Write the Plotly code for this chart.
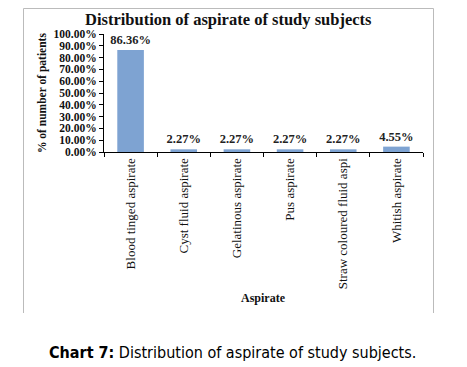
import plotly.graph_objects as go

categories = ["Blood tinged aspirate", "Cyst fluid aspirate", "Gelatinous aspirate",
              "Pus aspirate", "Straw coloured fluid aspi", "Whitish aspirate"]
values = [0.8636, 0.0227, 0.0227, 0.0227, 0.0227, 0.0455]
ytick_vals = [i / 10 for i in range(11)]
ytick_text = [f"{v*100:.2f}%" for v in ytick_vals]

serif = "Liberation Serif, Cambria, DejaVu Serif, serif"

# page body has an 8px margin; work in window pixels and offset
OFF = 8
W, H = 467 - OFF, 367 - OFF
L, T = 104 - OFF, 34 - OFF
R = W - (423 - OFF)
B = H - (152 - OFF)
pw, ph = W - L - R, H - T - B

def px(x):
    return (x - OFF - L) / pw

def py(y):
    return (H - B - (y - OFF)) / ph

fig = go.Figure(go.Bar(
    x=categories, y=values,
    marker=dict(color="#7EA3D2", line=dict(width=0)),
    text=[f"<b>{v*100:.2f}%</b>" for v in values],
    textposition="outside",
    constraintext="none",
    textfont=dict(family=serif, size=12.5, color="#222"),
    cliponaxis=False,
    width=0.5,
))

fig.update_layout(
    width=W, height=H,
    margin=dict(l=L, r=R, t=T, b=B, pad=0, autoexpand=False),
    paper_bgcolor="white", plot_bgcolor="white",
    showlegend=False,
    xaxis=dict(
        automargin=False,
        showline=True, linecolor="black", linewidth=1,
        ticks="outside", tickson="boundaries", ticklen=4, tickcolor="black",
        tickangle=-90,
        tickfont=dict(family=serif, size=13, color="#111"),
        showgrid=False,
    ),
    yaxis=dict(
        automargin=False,
        range=[0, 1],
        tickvals=ytick_vals, ticktext=[f"<b>{t}</b>" for t in ytick_text],
        showline=True, linecolor="black", linewidth=1,
        ticks="outside", ticklen=4, tickcolor="black",
        tickfont=dict(family=serif, size=11.5, color="#111"),
        showgrid=False, zeroline=False,
    ),
    font=dict(family=serif),
)

annotations = [
    dict(text="<b>Distribution of aspirate of study subjects</b>", x=px(228), y=py(9),
         xref="paper", yref="paper", showarrow=False,
         font=dict(family=serif, size=16.5, color="#111"), xanchor="center", yanchor="top",
         borderpad=0),
    dict(text="<b>% of number of patients</b>", x=px(42), y=py(93),
         xref="paper", yref="paper", showarrow=False, textangle=-90,
         font=dict(family=serif, size=11.5, color="#111"), xanchor="center", yanchor="middle"),
    dict(text="<b>Aspirate</b>", x=px(263), y=py(298),
         xref="paper", yref="paper", showarrow=False,
         font=dict(family=serif, size=12, color="#111"), xanchor="center", yanchor="middle"),
    dict(text="<b>Chart 7:</b> Distribution of aspirate of study subjects.", x=px(232), y=py(352),
         xref="paper", yref="paper", showarrow=False,
         font=dict(family="DejaVu Sans Condensed, Liberation Sans Narrow, Roboto, sans-serif", size=16, color="#000"),
         xanchor="center", yanchor="middle"),
]
fig.update_layout(annotations=annotations)

fig.add_shape(type="path", xref="paper", yref="paper",
              path=f"M {px(23.5)} {py(313)} L {px(23.5)} {py(8.5)} L {px(433.5)} {py(8.5)} L {px(433.5)} {py(313)}",
              line=dict(color="#BBBBBB", width=1))

fig.write_html("out.html")
